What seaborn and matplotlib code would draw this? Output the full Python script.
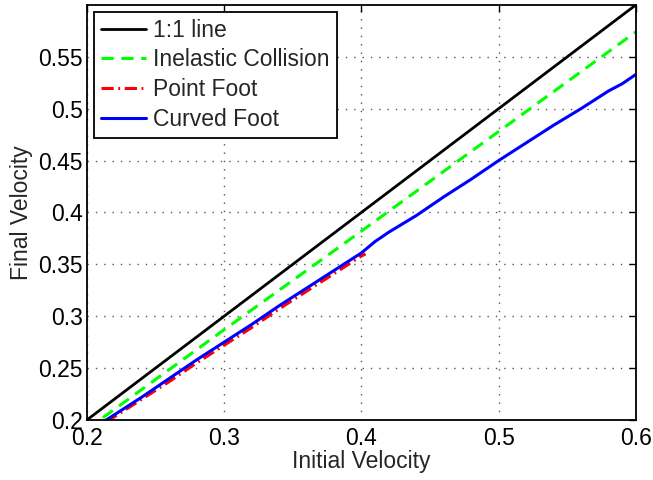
import matplotlib
matplotlib.use("Agg")
import matplotlib.pyplot as plt
import seaborn as sns

# 1:1 reference line
x_one = [0.2, 0.3, 0.4, 0.5, 0.6]
y_one = [0.2, 0.3, 0.4, 0.5, 0.6]

# inelastic collision prediction
x_inel = [0.2, 0.3, 0.4, 0.5, 0.6]
y_inel = [0.191, 0.287, 0.382, 0.478, 0.574]

# point foot (stops at 0.4)
x_point = [0.20, 0.22, 0.24, 0.26, 0.28, 0.30, 0.32, 0.34, 0.36, 0.38, 0.40, 0.403]
y_point = [0.186, 0.203, 0.220, 0.237, 0.255, 0.272, 0.289, 0.307, 0.324, 0.341, 0.358, 0.360]

# curved foot
x_curved = [0.20, 0.22, 0.24, 0.26, 0.28, 0.30, 0.32, 0.34, 0.36, 0.38, 0.40, 0.41,
            0.42, 0.44, 0.46, 0.48, 0.50, 0.52, 0.54, 0.56, 0.58, 0.59, 0.60]
y_curved = [0.188, 0.205, 0.222, 0.240, 0.258, 0.275, 0.292, 0.310, 0.327, 0.344, 0.361, 0.372,
            0.381, 0.397, 0.415, 0.432, 0.450, 0.467, 0.484, 0.500, 0.517, 0.524, 0.533]

xticks = [0.2, 0.3, 0.4, 0.5, 0.6]
xtick_labels = ["0.2", "0.3", "0.4", "0.5", "0.6"]
yticks = [0.2, 0.25, 0.3, 0.35, 0.4, 0.45, 0.5, 0.55]
ytick_labels = ["0.2", "0.25", "0.3", "0.35", "0.4", "0.45", "0.5", "0.55"]

sns.set_style("white")
plt.rcParams["font.family"] = ["Liberation Sans", "DejaVu Sans"]
fs = 16.5

fig, ax = plt.subplots(figsize=(6.53, 4.8), dpi=100)
fig.subplots_adjust(left=0.133, right=0.974, bottom=0.125, top=0.99)

sns.lineplot(x=x_one, y=y_one, ax=ax, color="black", lw=2, label="1:1 line")
sns.lineplot(x=x_inel, y=y_inel, ax=ax, color="#00ff00", lw=2.2, linestyle=(0, (4, 2.5)),
             label="Inelastic Collision")
sns.lineplot(x=x_point, y=y_point, ax=ax, color="red", lw=2.2, linestyle=(0, (4, 1.5, 0.6, 1.5)),
             label="Point Foot")
sns.lineplot(x=x_curved, y=y_curved, ax=ax, color="blue", lw=2.2, label="Curved Foot")

ax.set_xlim(0.2, 0.6)
ax.set_ylim(0.2, 0.6)
ax.set_xticks(xticks)
ax.set_xticklabels(xtick_labels)
ax.set_yticks(yticks)
ax.set_yticklabels(ytick_labels)
ax.tick_params(direction="in", length=5, width=1, top=True, right=True, labelsize=fs, pad=3,
               colors="black")
ax.tick_params(axis="x", pad=5)
ax.grid(True, linestyle=(0, (1, 5)), color="#555555", lw=1)

for s in ax.spines.values():
    s.set_color("black")
    s.set_linewidth(1.3)

ax.set_xlabel("Initial Velocity", fontsize=fs, labelpad=0)
ax.set_ylabel("Final Velocity", fontsize=fs, labelpad=4)

leg = ax.legend(loc="upper left", fontsize=fs, frameon=True, fancybox=False, framealpha=1,
                edgecolor="black", handlelength=2.0, handletextpad=0.3, labelspacing=0.3,
                borderaxespad=0.3, borderpad=0.3)
leg.get_frame().set_linewidth(1.3)

fig.savefig("out.png", dpi=100)
